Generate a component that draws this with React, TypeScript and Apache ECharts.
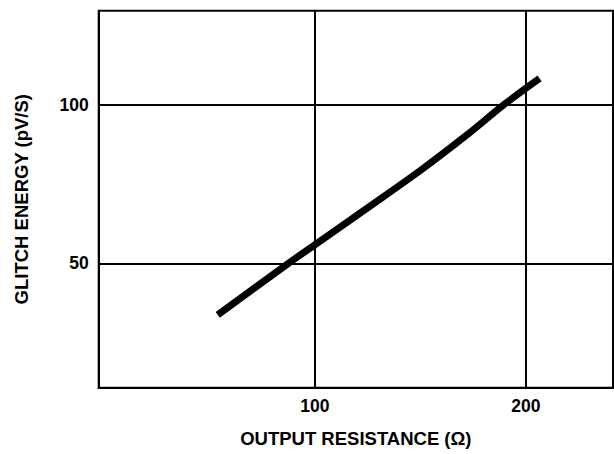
import React, { useEffect, useRef } from "react";
import * as echarts from "echarts";

const resistance = [54, 87.5, 100, 125, 150, 172, 190, 206.5];
const glitchEnergy = [33.7, 50, 55.8, 67.5, 79.3, 90.5, 100.3, 108.4];
const xTicks = [100, 200];
const yTicks = [50, 100];

const FONT = "Liberation Sans";

export default function App() {
  const ref = useRef<HTMLDivElement>(null);
  useEffect(() => {
    if (!ref.current) return;
    const chart = echarts.init(ref.current, undefined, { renderer: "svg" });
    const data = resistance.map((x, i) => [x, glitchEnergy[i]]);
    chart.setOption({
      animation: false,
      backgroundColor: "#ffffff",
      grid: {
        left: 98.7,
        right: 1,
        top: 10.7,
        bottom: 66.3,
        show: true,
        borderColor: "#000",
        borderWidth: 2,
        backgroundColor: "transparent",
      },
      xAxis: {
        type: "value",
        min: -2.4,
        max: 241.3,
        name: "OUTPUT RESISTANCE (\u03A9)",
        nameLocation: "middle",
        nameGap: 41,
        nameTextStyle: { fontFamily: FONT, fontWeight: "bold", fontSize: 18.5, color: "#000" },
        axisLine: { show: true, onZero: false, lineStyle: { color: "#000", width: 2 } },
        axisTick: { show: false, customValues: xTicks },
        axisLabel: {
          customValues: xTicks,
          margin: 9,
          fontFamily: FONT,
          fontWeight: "bold",
          fontSize: 17.5,
          color: "#000",
        },
        splitLine: { show: true, lineStyle: { color: "#000", width: 2 } },
      },
      yAxis: {
        type: "value",
        min: 10.7,
        max: 129.8,
        name: "GLITCH ENERGY (pV/S)",
        nameLocation: "middle",
        nameGap: 68,
        nameTextStyle: { fontFamily: FONT, fontWeight: "bold", fontSize: 18.5, color: "#000" },
        axisLine: { show: true, onZero: false, lineStyle: { color: "#000", width: 2 } },
        axisTick: { show: false, customValues: yTicks },
        axisLabel: {
          customValues: yTicks,
          margin: 10,
          fontFamily: FONT,
          fontWeight: "bold",
          fontSize: 17.5,
          color: "#000",
        },
        splitLine: { show: true, lineStyle: { color: "#000", width: 2 } },
      },
      series: [
        {
          type: "line",
          data,
          smooth: 0.3,
          symbol: "none",
          lineStyle: { color: "#000", width: 7, cap: "butt" },
        },
      ],
    });
    return () => chart.dispose();
  }, []);
  return (
    <div
      ref={ref}
      style={{ position: "absolute", left: 0, top: 0, width: 614, height: 454, background: "#fff" }}
    />
  );
}
